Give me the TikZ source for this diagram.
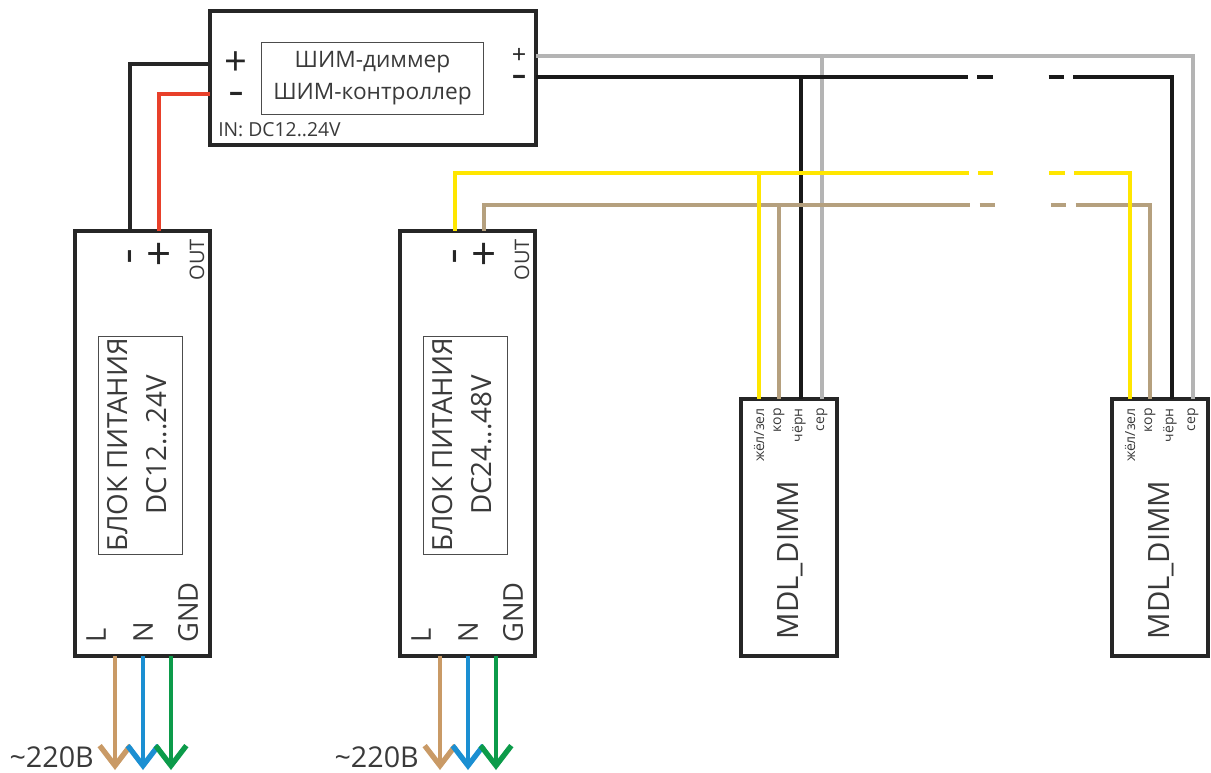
\documentclass[tikz,border=0pt]{standalone}
\usepackage{fontspec}
\setmainfont{Open Sans}
\usetikzlibrary{arrows.meta}
\definecolor{inkgrey}{HTML}{3A3A3A}
\definecolor{wiregrey}{HTML}{B4B4B4}
\definecolor{wireyellow}{HTML}{FFE600}
\definecolor{wirebrown}{HTML}{B5A07E}
\definecolor{wirered}{HTML}{E8402A}
\definecolor{mainsbrown}{HTML}{C99A66}
\definecolor{mainsblue}{HTML}{1B8FD2}
\definecolor{mainsgreen}{HTML}{0C9B4A}
\tikzset{
  unitbox/.style={draw=black!85,line width=3pt,outer sep=0pt,inner sep=0pt,fill=white},
  labelbox/.style={draw=black!70,line width=0.7pt,inner sep=0pt,align=center,text=inkgrey},
  wire/.style={line width=3pt},
  wiregap/.style={dash pattern=on #1 off 7pt on 11.5pt off 42pt on 11.5pt off 7pt on 2000pt},
  mains/.style={line width=3pt,-{Straight Barb[length=15pt,width=23pt,line width=4pt]}},
  txt/.style={text=inkgrey,inner sep=0pt},
  sign/.style={text=black!85,inner sep=0pt},
  minussign/.style={sign,text height=11.8pt,text depth=0pt,font=\fontsize{21}{21}\selectfont\bfseries},
  pinlabel/.style={txt,rotate=90,anchor=east,font=\fontsize{10.5}{12}\selectfont},
  termlabel/.style={txt,rotate=90,anchor=west,font=\fontsize{20.5}{23}\selectfont}
}
\begin{document}
\begin{tikzpicture}[x=0.75pt,y=-0.75pt]
\useasboundingbox (0,0) rectangle (1211,772);

% Dimmer
\node[unitbox,minimum width=244.5pt,minimum height=100.5pt] (dimmer) at (373,78) {};
\node[labelbox,minimum width=167pt,minimum height=54pt,font=\fontsize{17}{24}\selectfont] (dimlabel) at (372.5,78) {ШИМ-диммер\\ШИМ-контроллер};
\node[txt,anchor=west,font=\fontsize{14.5}{16}\selectfont] (dimin) at (218,130) {IN: DC12..24V};
\node[sign,font=\fontsize{30}{30}\selectfont] (dimplus) at (236,64) {+};
\node[minussign] (dimminus) at (236,94) {–};
\node[sign,font=\fontsize{19}{19}\selectfont] (dimoutplus) at (519,55.5) {+};
\node[minussign] (dimoutminus) at (519,77) {–};

% Power supplies
\foreach \px/\nm/\vlo/\vhi in {75/psua/12/24,400/psub/24/48} {
    \node[unitbox,minimum width=101.25pt,minimum height=319pt] (\nm) at (\px+67.5,443.5) {};
    \node[labelbox,rotate=90,minimum width=163.5pt,minimum height=63pt] (\nm label) at (\px+65,445.5) {};
    \node[txt,rotate=90,align=center,font=\fontsize{20.8}{29.5}\selectfont] (\nm text) at (\px+62,445) {БЛОК ПИТАНИЯ\\DC\vlo...\vhi V};
    \node[minussign,rotate=90] (\nm minus) at (\px+54.5,256) {–};
    \node[sign,font=\fontsize{33}{33}\selectfont] (\nm plus) at (\px+84,256) {+};
    \node[txt,rotate=90,anchor=east,font=\fontsize{15}{17}\selectfont] (\nm out) at (\px+122,239) {OUT};
    \node[termlabel] (\nm L) at (\px+21,643) {L};
    \node[termlabel] (\nm N) at (\px+68,643) {N};
    \node[termlabel] (\nm GND) at (\px+113,643) {GND};
    \node[txt,anchor=east,font=\fontsize{21.5}{24}\selectfont] (\nm volt) at (\px+19,757) {\textasciitilde 220В};
    % Mains leads
    \coordinate (\nm endL) at (\px+40,770);
    \coordinate (\nm endN) at (\px+68,770);
    \coordinate (\nm endG) at (\px+96,770);
    \draw[mains,mainsbrown] (\nm endL |- \nm.south) -- (\nm endL);
    \draw[mains,mainsblue] (\nm endN |- \nm.south) -- (\nm endN);
    \draw[mains,mainsgreen] (\nm endG |- \nm.south) -- (\nm endG);
}

% Modules
\foreach \mx/\nm in {741/mdla,1112/mdlb} {
    \node[unitbox,minimum width=72pt,minimum height=192.75pt] (\nm) at (\mx+48,527.5) {};
    \node[txt,rotate=90,font=\fontsize{22}{24}\selectfont] (\nm name) at (\mx+49,560) {MDL\_DIMM};
    \node[pinlabel] (\nm yel) at (\mx+18,408) {жёл/зел};
    \node[pinlabel] (\nm kor) at (\mx+38,408) {кор};
    \node[pinlabel] (\nm blk) at (\mx+58,408) {чёрн};
    \node[pinlabel] (\nm ser) at (\mx+81,408) {сер};
    \coordinate (\nm pinyel) at (\mx+18,399);
    \coordinate (\nm pinkor) at (\mx+38,399);
    \coordinate (\nm pinblk) at (\mx+60,399);
    \coordinate (\nm pinser) at (\mx+81,399);
}

% Supply to dimmer
\draw[wire,black!85] (psuaminus |- psua.north) |- (dimmer.west |- dimplus);
\draw[wire,wirered] (psuaplus |- psua.north) |- (dimmer.west |- dimminus);

% Bus to modules
\coordinate (yelbus) at (600,173);
\coordinate (korbus) at (600,205);
\draw[wire,wiregrey] (dimmer.east |- dimoutplus) -| (mdlbpinser);
\draw[wire,wiregrey] (mdlapinser |- dimoutplus) -- (mdlapinser);
\draw[wire,black!90,wiregap=324pt] (dimmer.east |- dimoutminus) -| (mdlbpinblk);
\draw[wire,black!90] (mdlapinblk |- dimoutminus) -- (mdlapinblk);
\draw[wire,wirebrown,wiregap=384pt] (psubplus |- psub.north) |- (mdlbpinkor |- korbus) -- (mdlbpinkor);
\draw[wire,wirebrown] (mdlapinkor |- korbus) -- (mdlapinkor);
\draw[wire,wireyellow,wiregap=429pt] (psubminus |- psub.north) |- (mdlbpinyel |- yelbus) -- (mdlbpinyel);
\draw[wire,wireyellow] (mdlapinyel |- yelbus) -- (mdlapinyel);

\end{tikzpicture}
\end{document}
